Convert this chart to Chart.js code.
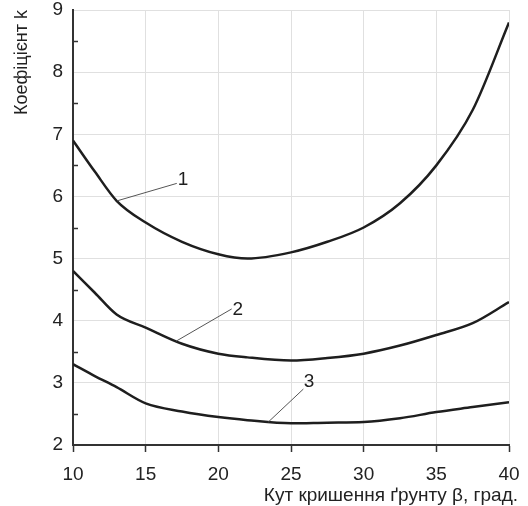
<!DOCTYPE html>
<html>
<head>
<meta charset="utf-8">
<script src="https://cdn.jsdelivr.net/npm/chart.js@4"></script>
<style>
  html, body { margin: 0; padding: 0; background: #fff; }
  #wrap { width: 528px; height: 506px; }
</style>
</head>
<body>
<div id="wrap"><canvas id="myChart" width="528" height="506"></canvas></div>
<script>
const context = document.getElementById('myChart').getContext('2d');

// kut kryshennia (degrees)
const angles = [10, 11.5, 13, 15, 17.5, 20, 22, 25, 27.5, 30, 32.5, 35, 37.5, 40];
const curve1 = [6.9, 6.4, 5.93, 5.58, 5.27, 5.07, 5.0, 5.1, 5.27, 5.5, 5.89, 6.5, 7.39, 8.8];
const curve2 = [4.8, 4.45, 4.1, 3.89, 3.63, 3.47, 3.41, 3.36, 3.4, 3.47, 3.6, 3.77, 3.96, 4.3];
const curve3 = [3.3, 3.11, 2.93, 2.67, 2.54, 2.45, 2.4, 2.35, 2.36, 2.37, 2.43, 2.53, 2.61, 2.69];

// curve labels: text position and leader line (data units)
const curveLabels = ['1', '2', '3'];
const labelAt = [[17.57, 6.27], [21.33, 4.17], [26.24, 3.02]];
const leaderFrom = [[13.05, 5.93], [17.09, 3.67], [23.44, 2.37]];
const leaderTo = [[17.14, 6.21], [20.92, 4.19], [25.85, 2.9]];

const xTitle = 'Кут кришення ґрунту β, град.';
const yTitle = 'Коефіцієнт k';

const FONT = '"Liberation Sans", Arial, sans-serif';
const toPoints = ys => ys.map((y, i) => ({x: angles[i], y}));

const lineSet = ys => ({
  data: toPoints(ys),
  borderColor: '#1e1e1e',
  borderWidth: 2.5,
  pointRadius: 0,
  fill: false,
  cubicInterpolationMode: 'monotone'
});

const extras = {
  id: 'extras',
  afterDraw(chart) {
    const {ctx, scales: {x, y}, chartArea} = chart;
    ctx.save();

    // small inward ticks at half units on the y axis
    ctx.strokeStyle = '#333';
    ctx.lineWidth = 1.5;
    for (let v = 2.5; v < 9; v += 1) {
      const py = Math.round(y.getPixelForValue(v)) + 0.5;
      ctx.beginPath();
      ctx.moveTo(chartArea.left, py);
      ctx.lineTo(chartArea.left + 5, py);
      ctx.stroke();
    }

    // leader lines and curve numbers
    ctx.strokeStyle = '#555';
    ctx.lineWidth = 1;
    ctx.fillStyle = '#1e1e1e';
    ctx.font = '19px ' + FONT;
    ctx.textAlign = 'center';
    ctx.textBaseline = 'middle';
    curveLabels.forEach((txt, i) => {
      ctx.beginPath();
      ctx.moveTo(x.getPixelForValue(leaderFrom[i][0]), y.getPixelForValue(leaderFrom[i][1]));
      ctx.lineTo(x.getPixelForValue(leaderTo[i][0]), y.getPixelForValue(leaderTo[i][1]));
      ctx.stroke();
      ctx.fillText(txt, x.getPixelForValue(labelAt[i][0]), y.getPixelForValue(labelAt[i][1]));
    });

    // x axis title, right aligned past the plot edge
    ctx.fillStyle = '#222';
    ctx.font = '19px ' + FONT;
    ctx.textAlign = 'right';
    ctx.textBaseline = 'alphabetic';
    ctx.fillText(xTitle, chartArea.right + 9, 501);
    ctx.restore();
  }
};

new Chart(context, {
  type: 'line',
  data: {
    datasets: [lineSet(curve1), lineSet(curve2), lineSet(curve3)]
  },
  options: {
    animation: false,
    responsive: false,
    layout: {padding: {top: 10, right: 19, left: 0, bottom: 0}},
    plugins: {legend: {display: false}, tooltip: {enabled: false}},
    scales: {
      x: {
        type: 'linear',
        min: 10,
        max: 40,
        afterFit: s => { s.height = 61; s.paddingLeft = 0; s.paddingRight = 0; },
        ticks: {stepSize: 5, color: '#222', padding: 11, font: {size: 19, family: FONT}, maxRotation: 0},
        grid: {color: '#e0e0e0', tickColor: '#333', tickLength: 7, tickWidth: 1.5},
        border: {color: '#333', width: 2}
      },
      y: {
        min: 2,
        max: 9,
        afterFit: s => { s.width = 73; s.paddingTop = 0; s.paddingBottom = 0; },
        ticks: {stepSize: 1, color: '#222', padding: 10, font: {size: 19, family: FONT}},
        grid: {color: '#e0e0e0', drawTicks: false},
        border: {color: '#333', width: 2},
        title: {
          display: true,
          text: yTitle,
          align: 'end',
          color: '#222',
          font: {size: 18, family: FONT},
          padding: {top: 11, bottom: 0}
        }
      }
    }
  },
  plugins: [extras]
});
</script>
</body>
</html>
